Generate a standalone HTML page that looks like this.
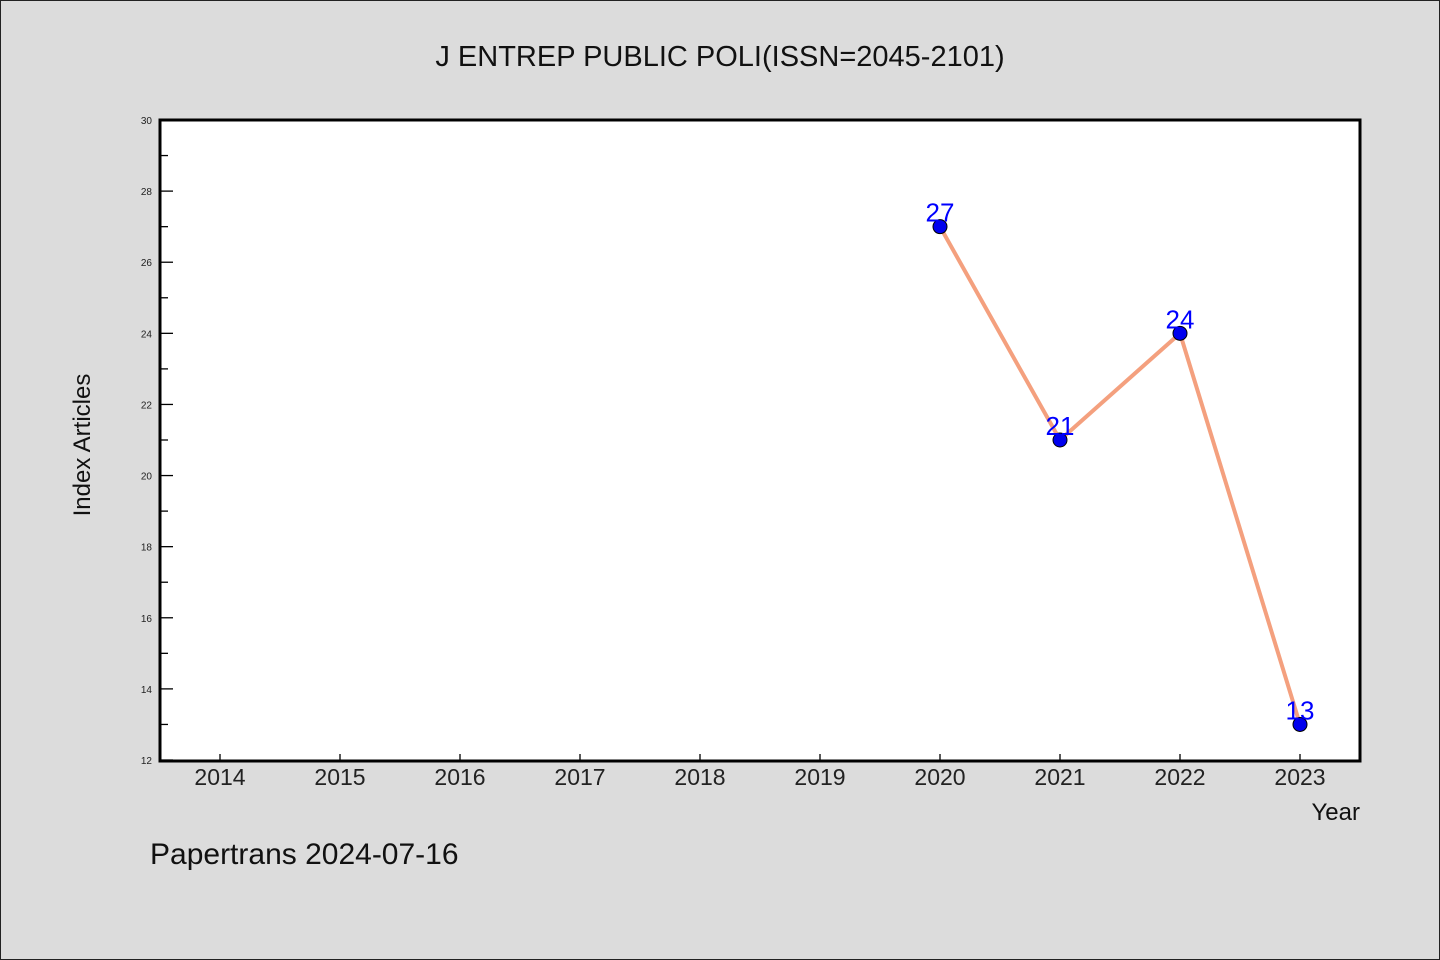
<!DOCTYPE html>
<html><head><meta charset="utf-8"><style>
body{margin:0;background:#dcdcdc;}
svg{display:block;font-family:"WenQuanYi Zen Hei","Liberation Sans",sans-serif;}
</style></head><body>
<svg id="chart" width="1440" height="960">
<rect x="0.5" y="0.5" width="1439" height="959" fill="#dcdcdc" stroke="#222"/>
<text x="720" y="66" text-anchor="middle" font-size="29" fill="#111">J ENTREP PUBLIC POLI(ISSN=2045-2101)</text>
<rect x="160" y="120" width="1200" height="641" fill="#fff"/>
<g id="axes"></g>
<g id="marks"></g>
<rect x="160" y="120" width="1200" height="641" fill="none" stroke="#000" stroke-width="3"/>
<text x="90" y="445" text-anchor="middle" font-size="24" fill="#111" transform="rotate(-90 90 445)">Index Articles</text>
<text x="1360" y="820" text-anchor="end" font-size="24" fill="#111">Year</text>
<text x="150" y="864" font-size="30" fill="#111">Papertrans 2024-07-16</text>
</svg>
<script>
const years=[2014,2015,2016,2017,2018,2019,2020,2021,2022,2023];
const dataYears=[2020,2021,2022,2023];
const values=[27,21,24,13];
const yTicks=[12,14,16,18,20,22,24,26,28,30];
const NS="http://www.w3.org/2000/svg";
const xS=y=>220+(y-2014)*120;
const yS=v=>760-(v-12)*(640/18);
function mk(t,a,p){const e=document.createElementNS(NS,t);for(const k in a)e.setAttribute(k,a[k]);p.appendChild(e);return e;}
const ax=document.getElementById('axes'),mg=document.getElementById('marks');
for(let v=12;v<=30;v++){
 const major=v%2===0;
 const l=mk('line',{x1:160,x2:major?173:168,y1:yS(v),y2:yS(v),stroke:'#000','stroke-width':1.3},ax);
 
 
}
yTicks.forEach(v=>{
 const t=mk('text',{x:152,y:yS(v)+4,'text-anchor':'end','font-size':10,fill:'#222'},ax);
 t.textContent=v;
 
 
});
years.forEach(y=>{
 const l=mk('line',{x1:xS(y),x2:xS(y),y1:760,y2:754,stroke:'#000','stroke-width':1.3},ax);
 
 
 const t=mk('text',{x:xS(y),y:785,'text-anchor':'middle','font-size':23,fill:'#222'},ax);
 t.textContent=y;
 
 
});
const pl=mk('polyline',{points:dataYears.map((y,i)=>xS(y)+','+yS(values[i])).join(' '),fill:'none',stroke:'#f4a07e','stroke-width':4,'stroke-linejoin':'round'},mg);


dataYears.forEach((y,i)=>{
 const c=mk('circle',{cx:xS(y),cy:yS(values[i]),r:7,fill:'#0000ee',stroke:'#000','stroke-width':1},mg);
 
 
 const t=mk('text',{x:xS(y),y:yS(values[i])-5,'text-anchor':'middle','font-size':26,fill:'#0000ff'},mg);
 t.textContent=values[i];
 
 
});
</script>
</body></html>
